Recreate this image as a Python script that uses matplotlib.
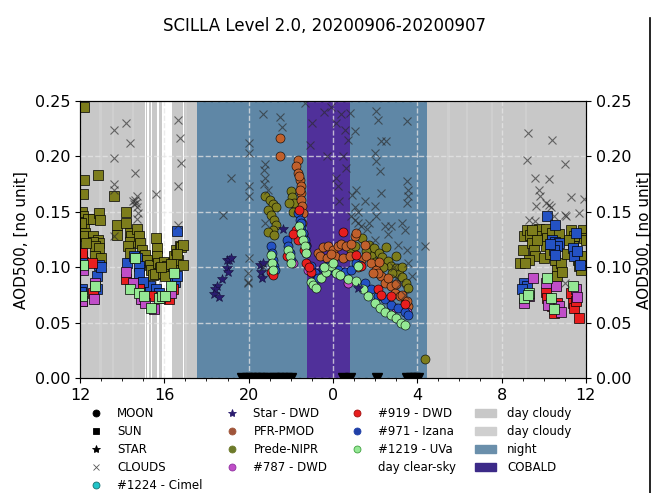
import matplotlib
matplotlib.use("Agg")
import matplotlib.pyplot as plt
from matplotlib.lines import Line2D
from matplotlib.patches import Patch
from matplotlib.ticker import MultipleLocator

# time axis in hours from 12 UTC of 2020-09-06 (24..36 = next day)
TICKS = [12, 16, 20, 24, 28, 32, 36]
TICK_LABELS = ["12", "16", "20", "0", "4", "8", "12"]

NIGHT = (17.57, 28.48)
COBALD = (22.78, 24.8)
CLEAR_SKY = [(15.08, 15.13), (15.2, 15.26), (15.37, 15.43), (15.66, 15.74),
             (15.9, 16.36), (16.88, 16.94)]
CLOUDY_B = [(12.9, 13.05), (13.5, 13.62), (14.45, 14.55), (16.98, 17.08),
            (29.4, 29.55), (30.3, 30.42), (31.5, 31.6), (33.1, 33.2)]

# ---- day 1, sun photometry (squares)
prede_d1 = [(12.19, .245), (12.19, .179), (12.16, .166), (12.87, .183), (12.11, .150),
            (12.12, .146), (12.16, .141), (12.19, .137), (12.24, .131), (12.13, .128),
            (12.4, .144), (12.63, .144), (12.9, .149), (12.95, .143), (12.63, .128),
            (12.87, .125), (12.92, .122), (12.63, .123), (12.7, .119), (12.92, .117),
            (12.7, .110), (13.6, .164), (13.75, .138), (13.75, .129), (14.17, .150),
            (14.2, .140), (14.35, .131), (14.42, .128), (14.35, .123), (14.27, .119),
            (14.35, .113), (14.7, .135), (14.78, .128), (14.86, .122), (14.94, .116),
            (15.02, .110), (14.86, .105), (15.1, .111), (15.2, .107), (15.3, .102),
            (15.35, .098), (15.45, .093), (15.6, .126), (15.65, .117), (15.65, .110),
            (15.72, .104), (15.8, .099), (16.0, .105), (16.13, .101), (16.24, .098),
            (16.4, .104), (16.48, .110), (16.56, .116), (16.64, .107), (16.72, .119),
            (16.8, .118), (16.9, .120), (16.88, .102), (12.05, .140), (12.3, .122),
            (13.0, .108), (15.55, .094), (15.95, .095), (16.3, .103), (16.6, .112),
            (16.05, .092), (15.85, .100)]
izana_d1 = [(12.1, .110), (12.1, .080), (12.05, .078), (12.8, .092), (12.7, .083),
            (12.8, .080), (12.9, .102), (14.22, .104), (14.55, .110), (14.7, .108),
            (14.78, .101), (14.8, .095), (15.15, .080), (15.3, .083), (15.6, .080),
            (15.75, .077), (16.5, .087), (16.62, .092), (16.62, .133), (12.15, .105),
            (13.0, .100), (14.4, .086), (15.0, .087)]
dwd919_d1 = [(12.1, .113), (12.55, .104), (12.63, .077), (14.2, .089), (14.8, .080),
             (15.05, .071), (15.35, .074), (16.2, .071), (12.1, .070), (15.8, .072),
             (16.4, .080)]
dwd787_d1 = [(12.15, .098), (12.1, .070), (12.65, .071), (12.7, .086), (14.2, .096),
             (14.9, .071), (15.5, .062), (16.3, .077), (14.5, .086), (15.1, .068)]
uva_d1 = [(12.15, .102), (12.1, .074), (14.35, .080), (14.6, .108), (14.8, .077),
          (15.05, .074), (15.35, .063), (15.75, .072), (15.9, .074), (16.05, .074),
          (16.3, .083), (16.45, .095), (12.7, .083)]

# ---- day 2, sun photometry (squares)
prede_d2 = [(32.9, .104), (33.0, .116), (33.06, .128), (33.19, .134), (33.37, .129),
            (33.45, .122), (33.53, .116), (33.6, .110), (33.77, .135), (33.85, .128),
            (34.09, .135), (34.17, .126), (34.09, .119), (34.01, .108), (34.4, .131),
            (34.48, .119), (34.56, .107), (34.64, .098), (34.64, .092), (34.8, .104),
            (34.88, .096), (35.3, .134), (35.45, .128), (35.38, .119), (35.45, .113),
            (35.61, .107), (35.69, .101), (35.77, .098), (35.85, .134), (35.93, .126),
            (33.3, .107), (33.1, .104), (33.7, .125), (34.3, .112), (35.1, .112),
            (35.2, .125), (34.75, .130), (33.45, .134), (35.9, .110), (36.0, .125)]
izana_d2 = [(34.17, .146), (34.56, .138), (34.4, .125), (34.56, .123), (34.72, .122),
            (34.64, .119), (34.48, .116), (34.56, .111), (35.53, .131), (35.38, .117),
            (35.45, .110), (35.72, .102), (33.06, .086), (33.22, .083), (32.98, .080),
            (34.3, .121), (35.6, .115)]
dwd919_d2 = [(34.1, .078), (34.17, .072), (34.64, .068), (34.5, .059), (35.3, .077),
             (35.38, .068), (35.45, .063), (35.67, .054), (34.4, .065), (35.55, .070)]
dwd787_d2 = [(33.5, .090), (34.1, .086), (34.57, .083), (33.06, .068), (34.33, .068),
             (34.72, .065), (34.8, .060), (35.53, .080), (33.3, .074), (34.2, .066),
             (35.6, .073)]
uva_d2 = [(33.06, .072), (33.3, .077), (34.17, .090), (34.33, .072), (34.48, .062),
          (35.4, .083), (33.25, .075)]

# ---- night, lunar photometry (circles) and stellar (stars)
prede_moon = [(20.76, .164), (21.0, .161), (21.15, .157), (21.3, .154), (20.9, .152),
              (21.05, .147), (21.2, .143), (21.3, .138), (21.15, .134), (20.9, .132),
              (21.2, .129), (22.0, .169), (22.05, .163), (22.16, .158), (21.9, .158),
              (22.1, .150), (24.87, .116), (25.03, .119), (25.4, .126), (25.72, .120),
              (25.96, .117), (26.2, .113), (26.35, .109), (26.6, .106), (26.75, .101),
              (26.99, .099), (27.15, .094), (27.3, .091), (27.46, .086), (27.54, .081),
              (25.8, .110), (26.0, .105), (26.4, .100), (26.8, .095), (27.0, .110),
              (27.3, .100), (26.5, .118), (25.55, .115), (28.35, .017)]
pfr_moon = [(21.5, .217), (21.5, .200), (22.34, .197), (22.26, .191), (22.34, .185),
            (22.42, .179), (22.5, .173), (22.5, .167), (22.47, .161), (22.53, .155),
            (22.58, .149), (22.4, .182), (22.45, .170), (22.55, .140), (22.6, .130),
            (22.7, .120), (23.3, .113), (23.55, .118), (23.78, .119), (24.0, .116),
            (24.24, .119), (24.4, .121), (24.63, .119), (24.87, .121), (25.03, .128),
            (25.11, .131), (23.4, .110), (23.7, .108), (24.1, .110), (24.5, .108),
            (24.8, .110), (23.9, .112), (25.35, .107), (25.58, .110), (25.82, .104),
            (26.06, .098), (26.3, .092), (26.46, .086), (26.77, .083), (26.93, .077),
            (27.17, .074), (27.4, .068), (27.56, .065), (26.14, .095), (25.2, .100),
            (25.9, .095), (26.6, .090), (27.0, .085), (27.3, .075), (27.5, .070),
            (25.5, .120), (26.2, .105)]
dwd919_moon = [(22.4, .152), (22.26, .134), (22.35, .125), (22.65, .116), (22.73, .104),
               (22.97, .096), (24.5, .132), (25.1, .111), (25.35, .101), (26.14, .080),
               (26.3, .075), (26.77, .074), (21.07, .096), (21.15, .093), (21.8, .110),
               (22.1, .130), (27.4, .067), (22.85, .100)]
izana_moon = [(21.07, .119), (21.1, .113), (21.15, .107), (21.2, .101), (21.23, .098),
              (21.8, .125), (21.86, .119), (21.94, .113), (21.99, .107), (22.34, .149),
              (22.42, .143), (22.47, .137), (22.58, .131), (22.66, .125), (22.74, .119),
              (22.74, .113), (22.97, .101), (23.13, .095), (23.29, .090), (23.53, .099),
              (23.78, .101), (24.0, .098), (24.24, .098), (24.55, .096), (24.87, .098),
              (25.11, .104), (25.27, .102), (25.51, .086), (25.82, .080), (26.14, .074),
              (26.46, .071), (26.77, .066), (27.09, .063), (27.4, .060), (27.56, .057),
              (22.5, .140), (23.9, .100)]
uva_moon = [(21.07, .111), (21.1, .104), (21.15, .098), (21.86, .116), (21.94, .110),
            (21.99, .104), (22.4, .137), (22.5, .131), (22.58, .125), (22.66, .119),
            (22.74, .113), (22.94, .087), (23.05, .084), (23.21, .081), (23.45, .090),
            (23.69, .096), (23.93, .101), (24.16, .095), (24.32, .093), (24.71, .089),
            (25.2, .101), (25.11, .088), (25.43, .080), (25.67, .074), (25.98, .068),
            (26.22, .063), (26.46, .060), (26.77, .057), (27.01, .054), (27.25, .050),
            (27.4, .048), (23.6, .100), (24.0, .104)]
dwd787_moon = [(22.1, .104), (24.7, .086), (27.01, .063), (22.8, .098), (27.5, .060)]
star_dwd = [(18.96, .107), (19.05, .107), (18.98, .099), (19.0, .096), (18.73, .089),
            (18.52, .083), (18.42, .080), (18.35, .076), (18.6, .073), (21.65, .135),
            (20.55, .102), (20.6, .096), (20.7, .104), (25.2, .081), (20.65, .090),
            (19.15, .108)]

# ---- cloud-flagged data
clouds = [(13.6, .224), (13.63, .199), (13.6, .175), (13.6, .170), (14.2, .230),
          (14.35, .212), (14.6, .185), (14.6, .161), (14.65, .158), (14.7, .154),
          (14.72, .164), (14.75, .149), (14.72, .144), (15.6, .166), (16.67, .233),
          (16.75, .217), (16.8, .194), (16.67, .173), (16.67, .138), (13.63, .128),
          (14.55, .157), (14.5, .160),
          (20.0, .212), (20.0, .203), (19.15, .181), (18.8, .147), (20.0, .173),
          (20.0, .164), (20.0, .108), (19.95, .095), (19.98, .087), (19.95, .086),
          (20.68, .238), (21.5, .236), (21.6, .227), (20.8, .193), (20.74, .188),
          (20.8, .181), (20.74, .175), (20.9, .170), (20.8, .140), (20.7, .100),
          (22.66, .248), (24.16, .230), (24.4, .238), (24.8, .239), (24.55, .224),
          (25.03, .223), (26.06, .241), (26.14, .233), (26.3, .214), (26.54, .214),
          (25.98, .203), (26.06, .196), (26.22, .187), (26.3, .167), (25.03, .154),
          (24.87, .146), (25.03, .143), (25.19, .140), (25.35, .137), (25.98, .155),
          (26.06, .146), (26.46, .137), (26.77, .137), (27.5, .232), (27.5, .178),
          (27.58, .170), (27.58, .164), (27.5, .158), (27.42, .134), (27.5, .116),
          (27.58, .104), (27.74, .092), (28.35, .119), (24.16, .181), (24.24, .173),
          (24.5, .200), (24.6, .190), (24.3, .160), (24.9, .165), (25.1, .170),
          (25.2, .150), (25.5, .160), (25.7, .140), (26.0, .125), (26.6, .130),
          (27.1, .120), (27.3, .140), (23.9, .245), (23.6, .240), (23.7, .200),
          (23.0, .230), (22.9, .210), (24.7, .215), (25.6, .135), (26.9, .100),
          (27.0, .090), (27.2, .085), (27.4, .075),
          (33.25, .221), (34.4, .215), (33.2, .197), (33.6, .181), (35.0, .193),
          (34.25, .180), (33.77, .170), (33.85, .164), (34.1, .158), (34.25, .156),
          (34.33, .154), (33.3, .143), (33.6, .142), (35.0, .147), (35.08, .146),
          (35.3, .163), (35.7, .149), (35.9, .162), (35.0, .086), (33.65, .155),
          (34.5, .146)]

# moon points sitting at the axis floor
moon_floor = [19.7, 19.9, 20.1, 20.3, 20.5, 20.7, 20.9, 21.2, 21.4, 21.6, 21.8, 22.0,
              24.5, 24.8, 26.1, 27.5, 27.7, 27.9, 28.05]

C_GRAY1 = "#c8c8c8"
C_GRAY2 = "#cfcfcf"
C_NIGHT = "#5f87a6"
C_COBALD = "#50309a"
C_OLIVE = "#7d7d1c"
C_BROWN = "#c0602c"
C_RED = "#e81e1e"
C_BLUE = "#2452c4"
C_GREEN = "#94e894"
C_MAGENTA = "#c04ec8"
C_CYAN = "#20c4c8"
C_STAR = "#2a1c6e"


def xy(pairs):
    return [p[0] for p in pairs], [p[1] for p in pairs]


fig = plt.figure(figsize=(6.56, 4.93), dpi=100)
ax = fig.add_axes([0.122, 0.233, 0.771, 0.562])

ax.axvspan(12, NIGHT[0], color=C_GRAY1, lw=0, zorder=0.1)
ax.axvspan(NIGHT[1], 36, color=C_GRAY1, lw=0, zorder=0.1)
for a, b in CLOUDY_B:
    ax.axvspan(a, b, color=C_GRAY2, lw=0, zorder=0.15)
for a, b in CLEAR_SKY:
    ax.axvspan(a, b, color="white", lw=0, zorder=0.15)
ax.axvspan(*NIGHT, color=C_NIGHT, lw=0, zorder=0.1)
ax.axvspan(*COBALD, color=C_COBALD, lw=0, zorder=0.2)

sq = dict(ls="none", marker="s", ms=7, mec="k", mew=0.5, zorder=3)
ci = dict(ls="none", marker="o", ms=6.5, mec="k", mew=0.4, zorder=3)

for pairs, c in [(prede_d1, C_OLIVE), (prede_d2, C_OLIVE),
                 (izana_d1, C_BLUE), (izana_d2, C_BLUE),
                 (dwd919_d1, C_RED), (dwd919_d2, C_RED),
                 (dwd787_d1, C_MAGENTA), (dwd787_d2, C_MAGENTA),
                 (uva_d1, C_GREEN), (uva_d2, C_GREEN)]:
    t, v = xy(pairs)
    ax.plot(t, v, mfc=c, **sq)

for pairs, c in [(prede_moon, C_OLIVE), (pfr_moon, C_BROWN), (dwd787_moon, C_MAGENTA),
                 (izana_moon, C_BLUE), (dwd919_moon, C_RED), (uva_moon, C_GREEN)]:
    t, v = xy(pairs)
    ax.plot(t, v, mfc=c, **ci)

t, v = xy(star_dwd)
ax.plot(t, v, ls="none", marker="*", ms=7, color=C_STAR, mec="#14103a", mew=0.4, zorder=3)

t, v = xy(clouds)
ax.plot(t, v, ls="none", marker="x", ms=6, color="#2a2a2a", mew=0.8, alpha=0.65, zorder=4)

ax.plot(moon_floor, [0] * len(moon_floor), ls="none", marker="v", ms=7, color="k",
        zorder=4, clip_on=True)

ax.set_xlim(12, 36)
ax.set_ylim(0, 0.25)
ax.set_xticks(TICKS)
ax.set_xticklabels(TICK_LABELS)
ax.xaxis.set_minor_locator(MultipleLocator(1))
ax.set_yticks([0, 0.05, 0.10, 0.15, 0.20, 0.25])
ax.set_yticklabels(["0.00", "0.05", "0.10", "0.15", "0.20", "0.25"])
ax.tick_params(labelsize=11.5)
ax.set_axisbelow(True)
ax.grid(True, ls="--", color="#e6e6e6", lw=1, alpha=0.75)
ax.set_ylabel("AOD500, [no unit]", fontsize=11)

ax2 = ax.twinx()
ax2.set_ylim(0, 0.25)
ax2.set_yticks([0, 0.05, 0.10, 0.15, 0.20, 0.25])
ax2.set_yticklabels(["0.00", "0.05", "0.10", "0.15", "0.20", "0.25"])
ax2.tick_params(labelsize=11.5)
ax2.set_ylabel("AOD500, [no unit]", fontsize=11)

fig.text(0.495, 0.948, "SCILLA Level 2.0, 20200906-20200907", ha="center", va="center",
         fontsize=12)


def mk(marker, color, ec=None, ms=5):
    return Line2D([], [], ls="none", marker=marker, ms=ms, mfc=color,
                  mec=ec if ec else color, mew=0.6)


handles = [mk("o", "k"), mk("s", "k"), mk("*", "k", ms=6), mk("x", "#555555"),
           mk("o", C_CYAN, "#1a7070"),
           mk("*", C_STAR, ms=6), mk("o", "#a0553a"), mk("o", "#6d7a2a"),
           mk("o", C_MAGENTA, "#9030a0"),
           mk("o", C_RED, "#a01010"), mk("o", "#2040a8"), mk("o", C_GREEN, "#40a040"),
           Patch(color="white"),
           Patch(color=C_GRAY1), Patch(color=C_GRAY2), Patch(color="#6a8fab"),
           Patch(color="#3c2a88")]
labels = ["MOON", "SUN", "STAR", "CLOUDS", "#1224 - Cimel",
          "Star - DWD", "PFR-PMOD", "Prede-NIPR", "#787 - DWD",
          "#919 - DWD", "#971 - Izana", "#1219 - UVa", "day clear-sky",
          "day cloudy", "day cloudy", "night", "COBALD"]
fig.legend(handles, labels, ncol=4, loc="upper left", bbox_to_anchor=(0.13, 0.174),
           frameon=False, fontsize=8.5, handlelength=1.8, handletextpad=0.9,
           columnspacing=1.6, labelspacing=0.42, borderaxespad=0, borderpad=0)

fig.add_artist(Line2D([0.991, 0.991], [0, 0.963], color="k", lw=1.2))

fig.savefig("out.png", dpi=100)
